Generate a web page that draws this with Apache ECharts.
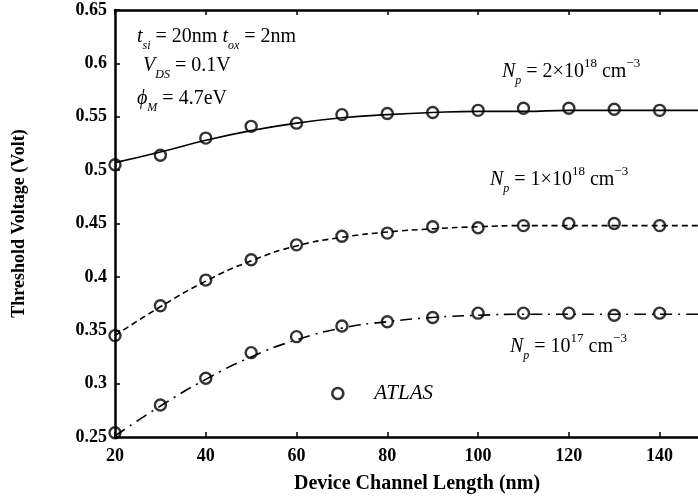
<!DOCTYPE html>
<html><head><meta charset="utf-8">
<script src="https://cdn.jsdelivr.net/npm/echarts@6/dist/echarts.min.js"></script>
<style>html,body{margin:0;padding:0;background:#fff}#c{width:698px;height:500px}</style>
</head><body><div id="c"></div>
<script>
const lengths = [20,30,40,50,60,70,80,90,100,110,120,130,140];
const modelLengths = [20,30,40,50,60,70,80,90,100,110,120,130,140,150];
const atlas2e18 = [0.505,0.514,0.530,0.541,0.544,0.552,0.553,0.554,0.556,0.558,0.558,0.557,0.556];
const atlas1e18 = [0.345,0.373,0.397,0.416,0.430,0.438,0.441,0.447,0.446,0.448,0.450,0.450,0.448];
const atlas1e17 = [0.254,0.280,0.305,0.329,0.344,0.354,0.358,0.362,0.366,0.366,0.366,0.364,0.366];
const model2e18 = [0.507,0.517,0.528,0.537,0.544,0.549,0.552,0.554,0.555,0.555,0.556,0.556,0.556,0.556];
const model1e18 = [0.345,0.372,0.396,0.415,0.429,0.437,0.442,0.445,0.447,0.448,0.448,0.448,0.448,0.448];
const model1e17 = [0.251,0.279,0.304,0.325,0.341,0.352,0.358,0.362,0.364,0.365,0.365,0.365,0.365,0.365];
const xTicks = [20,40,60,80,100,120,140];

const F = 'Liberation Serif';
const pairs = (xs, ys) => xs.map((x,i)=>[x, ys[i]]);
const rich = {
  n:{fontFamily:F,fontSize:20,color:'#000',verticalAlign:'middle',lineHeight:30},
  i:{fontFamily:F,fontSize:20,fontStyle:'italic',color:'#000',verticalAlign:'middle',lineHeight:30},
  sub:{fontFamily:F,fontSize:12,fontStyle:'italic',color:'#000',verticalAlign:'bottom',lineHeight:30},
  sup:{fontFamily:F,fontSize:13,color:'#000',verticalAlign:'top',lineHeight:30}
};
function label(x,y,text){return {type:'text',left:x,top:y,style:{text:text,rich:rich,font:'20px '+F}};}

const modelSeries = (data, type) => ({
  type:'line', data:pairs(modelLengths,data), smooth:true, showSymbol:false, symbol:'none',
  lineStyle:{color:'#000',width:1.6,type:type}, silent:true, z:2
});
const atlasSeries = (data) => ({
  type:'scatter', name:'ATLAS', data:pairs(lengths,data), symbol:'circle', symbolSize:11,
  itemStyle:{color:'rgba(255,255,255,0)',borderColor:'#000',borderWidth:2.4}, z:3
});

const axisCommon = {
  type:'value', min:20, max:150, interval:20,
  axisLine:{show:true,lineStyle:{color:'#000',width:2.5}},
  axisTick:{show:true,inside:true,length:5,lineStyle:{color:'#000',width:1.5}},
  splitLine:{show:false}
};

const chart = echarts.init(document.getElementById('c'));
chart.setOption({
  animation:false,
  backgroundColor:'#fff',
  grid:{left:115,right:-7,top:10,bottom:63,outerBoundsMode:'none'},
  xAxis:[
    Object.assign({}, axisCommon, {
      position:'bottom',
      axisLabel:{fontFamily:F,fontSize:18,fontWeight:'bold',color:'#000',margin:10,
        customValues:xTicks},
      name:'Device Channel Length (nm)', nameLocation:'middle', nameGap:37,
      nameTextStyle:{fontFamily:F,fontSize:20,fontWeight:'bold',color:'#000',padding:[0,0,0,14]}
    }),
    Object.assign({}, axisCommon, {position:'top',axisLabel:{show:false}})
  ],
  yAxis:{
    type:'value', min:0.25, max:0.65, interval:0.05,
    axisLine:{show:true,lineStyle:{color:'#000',width:2.5}},
    axisTick:{show:true,inside:true,length:5,lineStyle:{color:'#000',width:1.5}},
    splitLine:{show:false},
    axisLabel:{fontFamily:F,fontSize:18,fontWeight:'bold',color:'#000',margin:8,
      formatter:v=>String(+v.toFixed(2))},
    name:'Threshold Voltage (Volt)', nameLocation:'middle', nameGap:87, nameRotate:90,
    nameTextStyle:{fontFamily:F,fontSize:18,fontWeight:'bold',color:'#000'}
  },
  legend:{
    data:[{name:'ATLAS',icon:'circle'}], left:326, top:378, itemWidth:11, itemHeight:11, itemGap:8,
    textStyle:{fontFamily:F,fontSize:21,fontStyle:'italic',color:'#000',padding:[0,0,0,26]},
    itemStyle:{color:'rgba(255,255,255,0)',borderColor:'#000',borderWidth:2.6}, selectedMode:false
  },
  series:[
    modelSeries(model2e18,'solid'),
    modelSeries(model1e18,[6,4]),
    modelSeries(model1e17,[12,6,2,6]),
    atlasSeries(atlas2e18),
    atlasSeries(atlas1e18),
    atlasSeries(atlas1e17)
  ],
  graphic:[
    label(137,27,'{i|t}{sub|si}{n| = 20nm }{i|t}{sub|ox}{n| = 2nm}'),
    label(143,56,'{i|V}{sub|DS}{n| = 0.1V}'),
    label(137,89,'{i|ϕ}{sub|M}{n| = 4.7eV}'),
    label(502,57,'{i|N}{sub|p}{n| = 2×10}{sup|18}{n| cm}{sup|−3}'),
    label(490,165,'{i|N}{sub|p}{n| = 1×10}{sup|18}{n| cm}{sup|−3}'),
    label(510,332,'{i|N}{sub|p}{n| = 10}{sup|17}{n| cm}{sup|−3}')
  ]
});
</script></body></html>
